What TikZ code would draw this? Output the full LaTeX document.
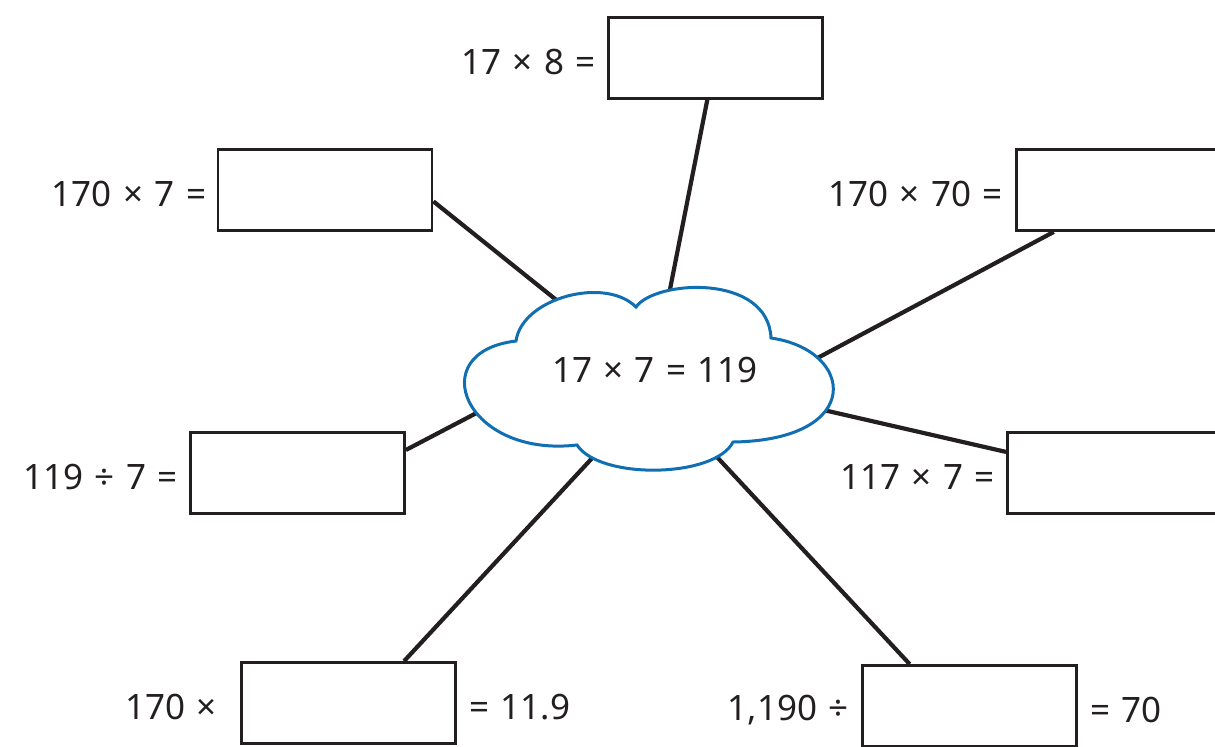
\documentclass[tikz,border=0pt]{standalone}
\usepackage{fontspec}
\setmainfont{Noto Sans}[WordSpace=1.25]
\usetikzlibrary{positioning}
\definecolor{ink}{HTML}{231F20}
\definecolor{cloudblue}{RGB}{16,110,178}
\tikzset{
  answerbox/.style={draw=ink, line width=1.4pt, minimum width=107pt, minimum height=40.5pt, inner sep=0pt},
  sumtext/.style={text=ink, font=\fontsize{17.5}{21}\selectfont, inner sep=0pt},
  prompt/.style={sumtext, yshift=-2pt},
  link/.style={draw=ink, line width=2.1pt},
}

\begin{document}
\begin{tikzpicture}[x=0.5pt,y=-0.5pt]
    \useasboundingbox (0,0) rectangle (1215,746);
    \clip (0,0) rectangle (1215,746);
    % answer boxes
    \node[answerbox] (b17x8) at (715.5,58) {};
    \node[answerbox] (b170x7) at (325,190) {};
    \node[answerbox] (b170x70) at (1123.5,190) {};
    \node[answerbox] (b119) at (297.5,473) {};
    \node[answerbox] (b117) at (1114.5,473) {};
    \node[answerbox] (blo) at (348.5,703) {};
    \node[answerbox] (bro) at (969.5,706) {};
    % prompts beside the boxes
    \node[prompt, left=5.5pt of b17x8] (t17x8) {17 × 8 =};
    \node[prompt, left=5pt of b170x7] (t170x7) {170 × 7 =};
    \node[prompt, left=6pt of b170x70] (t170x70) {170 × 70 =};
    \node[prompt, left=5.5pt of b119] (t119) {119 ÷ 7 =};
    \node[prompt, left=5.5pt of b117] (t117) {117 × 7 =};
    \node[prompt, left=11.5pt of blo] (tlo) {170 ×};
    \node[prompt, right=6pt of blo] (tlor) {= 11.9};
    \node[prompt, left=6pt of bro] (tro) {1,190 ÷};
    \node[prompt, right=6pt of bro] (tror) {= 70};
    % spokes, ending under the cloud
    \coordinate (in1) at (662,330);
    \coordinate (in2) at (600,335);
    \coordinate (in3) at (780,378);
    \coordinate (in4) at (530,385);
    \coordinate (in5) at (780,400);
    \coordinate (in6) at (620,428);
    \coordinate (in7) at (690,428);
    \draw[link] (b17x8) -- (in1);
    \draw[link] (b170x7.-6.3) -- (in2);
    \draw[link] (b170x70.211.5) -- (in3);
    \draw[link] (b119.12) -- (in4);
    \draw[link] (b117.169.4) -- (in5);
    \draw[link] (blo.37.6) -- (in6);
    \draw[link] (bro.145.2) -- (in7);
    % cloud
    \draw[cloudblue, line width=1.5pt, fill=white]
        (516,341) .. controls (522,298) and (605,276) .. (636,307)
        .. controls (655,280) and (768,273) .. (771,338)
        .. controls (855,350) and (865,440) .. (733,442)
        .. controls (715,478) and (600,480) .. (577,445)
        .. controls (465,458) and (422,352) .. (516,341) -- cycle;
    \node[sumtext] (core) at (655,370) {17 × 7 = 119};
\end{tikzpicture}
\end{document}
